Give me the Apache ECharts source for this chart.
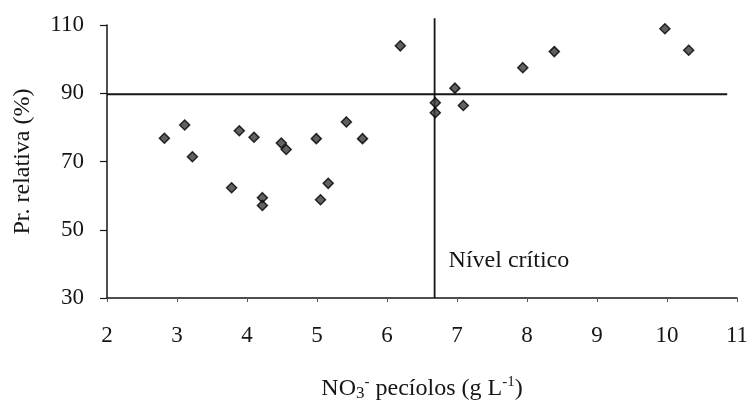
<!DOCTYPE html>
<html>
<head>
<meta charset="utf-8">
<script src="https://cdn.jsdelivr.net/npm/echarts@6/dist/echarts.min.js"></script>
<style>
  html, body { margin: 0; padding: 0; background: #fff; }
  #chart { width: 752px; height: 405px; }
</style>
</head>
<body>
<div id="chart"></div>
<script>
// Nitrate in petiole sap vs. relative yield
const nitrate = [2.82, 3.11, 3.22, 3.78, 3.89, 4.10, 4.22, 4.22, 4.49, 4.56, 4.99, 5.16,
                 5.05, 5.42, 5.65, 6.19, 6.69, 6.69, 6.97, 7.09, 7.94, 8.39, 9.97, 10.31];
const relYield = [76.8, 80.7, 71.4, 62.3, 79.0, 77.1, 59.4, 57.1, 75.4, 73.5, 76.7, 63.6,
                  58.8, 81.6, 76.7, 103.9, 87.2, 84.3, 91.5, 86.4, 97.5, 102.2, 108.9, 102.6];

// Critical level lines
const criticalNitrate = 6.68;
const criticalYield = 89.7;
const hLineX = [2, 10.86];
const vLineY = [30, 112];
const criticalLabel = 'Nível crítico';
const criticalLabelAt = [6.88, 41];

// Axis ranges / ticks
const xTicks = [2, 3, 4, 5, 6, 7, 8, 9, 10, 11];
const yTicks = [30, 50, 70, 90, 110];

const serif = '"Liberation Serif", "Times New Roman", serif';
const ink = '#151515';
const chart = echarts.init(document.getElementById('chart'), null, { renderer: 'canvas' });

chart.setOption({
  animation: false,
  backgroundColor: '#fff',
  grid: { left: 107, right: 15, top: 25, bottom: 107, outerBoundsMode: 'none' },
  xAxis: {
    type: 'value',
    min: xTicks[0], max: xTicks[xTicks.length - 1], interval: 1,
    axisLine: { lineStyle: { color: ink, width: 1.5 } },
    axisTick: { show: true, length: 4, lineStyle: { color: '#555', width: 1 } },
    axisLabel: { fontFamily: serif, fontSize: 23, color: ink, margin: 26 },
    splitLine: { show: false },
    name: '{n|NO}{s|3}{sp|-} pecíolos (g L{sp|-1})',
    nameLocation: 'middle',
    nameGap: 77,
    nameTextStyle: {
      fontFamily: serif, fontSize: 24, color: ink,
      rich: {
        n: { fontFamily: serif, fontSize: 24, color: ink },
        s: { fontFamily: serif, fontSize: 17, color: ink, verticalAlign: 'bottom', padding: [6, 0, 0, 0] },
        sp: { fontFamily: serif, fontSize: 15, color: ink, verticalAlign: 'top', padding: [0, 0, 12, 0] }
      }
    }
  },
  yAxis: {
    type: 'value',
    min: yTicks[0], max: yTicks[yTicks.length - 1], interval: 20,
    axisLine: { show: true, lineStyle: { color: ink, width: 1.5 } },
    axisTick: { show: true, length: 7, lineStyle: { color: ink, width: 1.2 } },
    axisLabel: { fontFamily: serif, fontSize: 23, color: ink, margin: 23 },
    splitLine: { show: false },
    name: 'Pr. relativa (%)',
    nameLocation: 'middle',
    nameGap: 72,
    nameTextStyle: { fontFamily: serif, fontSize: 24, color: ink }
  },
  series: [
    {
      type: 'scatter',
      symbol: 'diamond',
      symbolSize: 10,
      itemStyle: { color: '#3a3a3a', borderColor: '#000', borderWidth: 1.5 },
      data: nitrate.map((x, i) => [x, relYield[i]]),
      z: 5
    },
    {
      type: 'line',
      data: [[hLineX[0], criticalYield], [hLineX[1], criticalYield]],
      symbol: 'none',
      lineStyle: { color: ink, width: 2 },
      clip: false,
      silent: true
    },
    {
      type: 'line',
      data: [[criticalNitrate, vLineY[0]], [criticalNitrate, vLineY[1]]],
      symbol: 'none',
      lineStyle: { color: ink, width: 1.8 },
      clip: false,
      silent: true,
      markPoint: {
        symbol: 'rect', symbolSize: 0,
        data: [{ coord: criticalLabelAt }],
        label: {
          show: true, position: 'right', distance: 0,
          formatter: criticalLabel,
          fontFamily: serif, fontSize: 24, color: ink
        }
      }
    }
  ]
});
</script>
</body>
</html>
